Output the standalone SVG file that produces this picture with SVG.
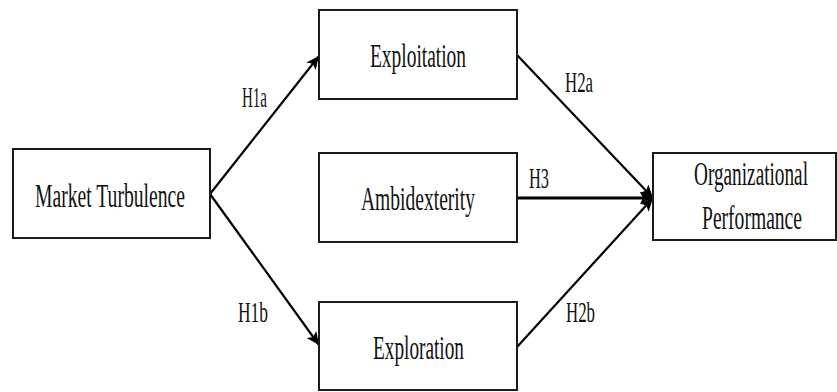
<svg xmlns="http://www.w3.org/2000/svg" width="837" height="392" viewBox="0 0 837 392">
<defs>
<style>
.box{fill:#fff;stroke:#1a1a1a;stroke-width:2}
.t{font-family:"Liberation Serif","Times New Roman",serif;font-size:33px;fill:#111;text-anchor:middle}
.l{font-family:"Liberation Serif","Times New Roman",serif;font-size:30px;fill:#111;text-anchor:middle}
.c{stroke:#000;stroke-width:2.2;fill:none;marker-end:url(#ah)}
</style>
<marker id="ah" markerUnits="userSpaceOnUse" markerWidth="14" markerHeight="12" refX="13" refY="6" orient="auto" viewBox="0 0 14 12">
<path d="M0,0 L13,6 L0,12 L3,6 Z" fill="#000"/>
</marker>
</defs>
<rect width="837" height="392" fill="#fff"/>
<g id="connectors">
<line class="c" x1="210" y1="194" x2="319" y2="56"/>
<line class="c" x1="210" y1="194" x2="319" y2="345"/>
<line class="c" x1="517" y1="55" x2="653" y2="198"/>
<line class="c" x1="517" y1="198" x2="653" y2="198" style="stroke-width:3"/>
<line class="c" x1="517" y1="347" x2="653" y2="198"/>
<text class="l" x="254.5" y="107" textLength="25" lengthAdjust="spacingAndGlyphs">H1a</text>
<text class="l" x="253" y="322" textLength="30" lengthAdjust="spacingAndGlyphs">H1b</text>
<text class="l" x="579" y="92" textLength="28" lengthAdjust="spacingAndGlyphs">H2a</text>
<text class="l" x="539" y="188" textLength="20" lengthAdjust="spacingAndGlyphs">H3</text>
<text class="l" x="580.5" y="322" textLength="29" lengthAdjust="spacingAndGlyphs">H2b</text>
</g>
<g id="market-turbulence">
<rect class="box" x="13" y="149" width="197" height="89"/>
<text class="t" x="110" y="207" textLength="150" lengthAdjust="spacingAndGlyphs">Market Turbulence</text>
</g>
<g id="exploitation">
<rect class="box" x="319" y="10" width="198" height="89"/>
<text class="t" x="418" y="67" textLength="96" lengthAdjust="spacingAndGlyphs">Exploitation</text>
</g>
<g id="ambidexterity">
<rect class="box" x="319" y="153" width="198" height="89"/>
<text class="t" x="418" y="210" textLength="114" lengthAdjust="spacingAndGlyphs">Ambidexterity</text>
</g>
<g id="exploration">
<rect class="box" x="319" y="302" width="198" height="88"/>
<text class="t" x="418.5" y="359" textLength="91" lengthAdjust="spacingAndGlyphs">Exploration</text>
</g>
<g id="organizational-performance">
<rect class="box" x="653" y="153" width="183" height="87"/>
<text class="t" x="751" y="185" textLength="114" lengthAdjust="spacingAndGlyphs">Organizational</text>
<text class="t" x="752" y="229" textLength="100" lengthAdjust="spacingAndGlyphs">Performance</text>
</g>
</svg>
